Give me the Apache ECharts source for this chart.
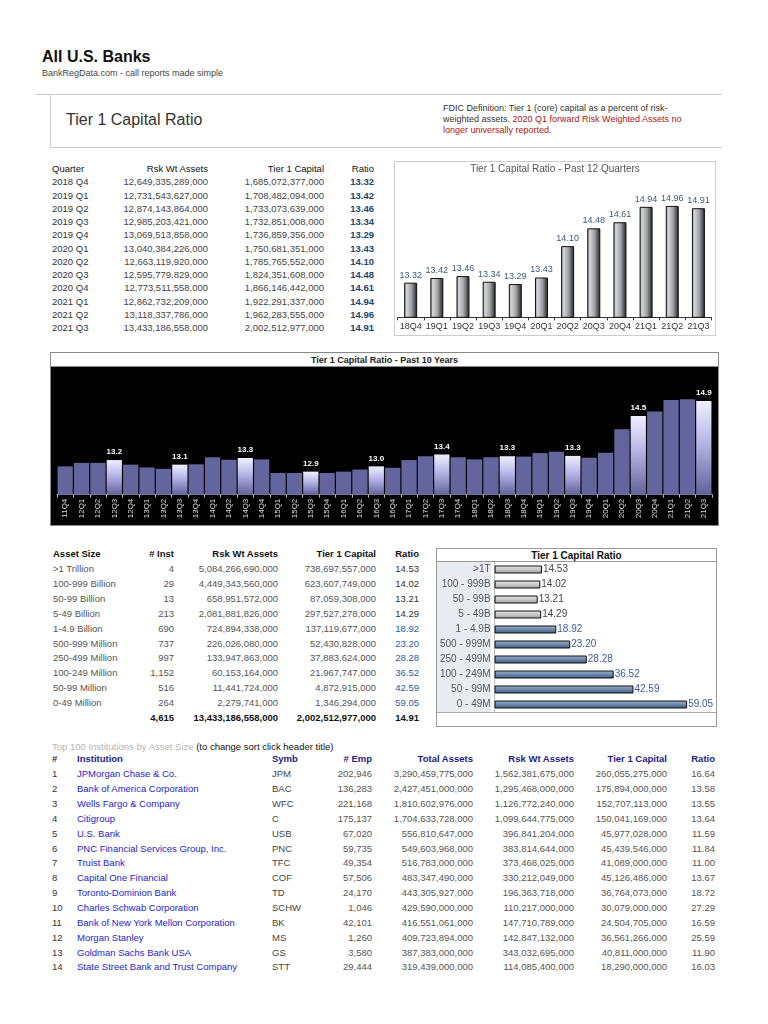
<!DOCTYPE html>
<html><head><meta charset="utf-8">
<script src="https://cdn.jsdelivr.net/npm/echarts@6/dist/echarts.min.js"></script>
<style>
html,body{margin:0;padding:0;background:#fff;}
#page{position:relative;width:768px;height:1024px;overflow:hidden;font-family:"Liberation Sans",Arial,sans-serif;color:#444;}
.t{position:absolute;white-space:nowrap;line-height:12px;font-size:9.5px;}
.box{position:absolute;box-sizing:border-box;}
</style></head><body><div id="page"></div>
<script>
// ---------- DATA ----------
const quarterLabels = ['2018 Q4','2019 Q1','2019 Q2','2019 Q3','2019 Q4','2020 Q1','2020 Q2','2020 Q3','2020 Q4','2021 Q1','2021 Q2','2021 Q3'];
const quarterShort = ['18Q4','19Q1','19Q2','19Q3','19Q4','20Q1','20Q2','20Q3','20Q4','21Q1','21Q2','21Q3'];
const quarterRwa = [12649335289000,12731543627000,12874143864000,12985203421000,13069513858000,13040384226000,12663119920000,12595779829000,12773511558000,12862732209000,13118337786000,13433186558000];
const quarterT1 = [1685072377000,1708482094000,1733073639000,1732851008000,1736859356000,1750681351000,1785765552000,1824351608000,1866146442000,1922291337000,1962283555000,2002512977000];
const quarterRatio = [13.32,13.42,13.46,13.34,13.29,13.43,14.10,14.48,14.61,14.94,14.96,14.91];

const tenYearLabels = ['11Q4','12Q1','12Q2','12Q3','12Q4','13Q1','13Q2','13Q3','13Q4','14Q1','14Q2','14Q3','14Q4','15Q1','15Q2','15Q3','15Q4','16Q1','16Q2','16Q3','16Q4','17Q1','17Q2','17Q3','17Q4','18Q1','18Q2','18Q3','18Q4','19Q1','19Q2','19Q3','19Q4','20Q1','20Q2','20Q3','20Q4','21Q1','21Q2','21Q3'];
const tenYearRatio = [13.04,13.14,13.14,13.22,13.09,13.01,12.97,13.09,13.10,13.30,13.23,13.28,13.24,12.85,12.85,12.89,12.85,12.89,12.95,13.04,13.00,13.22,13.33,13.38,13.30,13.24,13.30,13.33,13.32,13.42,13.46,13.34,13.29,13.43,14.10,14.48,14.61,14.94,14.96,14.91];

const sizeLabels = ['>1 Trillion','100-999 Billion','50-99 Billion','5-49 Billion','1-4.9 Billion','500-999 Million','250-499 Million','100-249 Million','50-99 Million','0-49 Million'];
const sizeShort = ['>1T','100 - 999B','50 - 99B','5 - 49B','1 - 4.9B','500 - 999M','250 - 499M','100 - 249M','50 - 99M','0 - 49M'];
const sizeInst = [4,29,13,213,690,737,997,1152,516,264];
const sizeRwa = [5084266690000,4449343560000,658951572000,2081881826000,724894338000,226026080000,133947863000,60153164000,11441724000,2279741000];
const sizeT1 = [738697557000,623607749000,87059308000,297527278000,137119677000,52430828000,37883624000,21967747000,4872915000,1346294000];
const sizeRatio = [14.53,14.02,13.21,14.29,18.92,23.20,28.28,36.52,42.59,59.05];
const sizeTotals = [4615,13433186558000,2002512977000,14.91];

const instNames = ['JPMorgan Chase & Co.','Bank of America Corporation','Wells Fargo & Company','Citigroup','U.S. Bank','PNC Financial Services Group, Inc.','Truist Bank','Capital One Financial','Toronto-Dominion Bank','Charles Schwab Corporation','Bank of New York Mellon Corporation','Morgan Stanley','Goldman Sachs Bank USA','State Street Bank and Trust Company'];
const instSymb = ['JPM','BAC','WFC','C','USB','PNC','TFC','COF','TD','SCHW','BK','MS','GS','STT'];
const instEmp = [202946,136283,221168,175137,67020,59735,49354,57506,24170,1046,42101,1260,3580,29444];
const instAssets = [3290459775000,2427451000000,1810602976000,1704633728000,556810647000,549603968000,516783000000,483347490000,443305927000,429590000000,416551061000,409723894000,387383000000,319439000000];
const instRwa = [1562381675000,1295468000000,1126772240000,1099644775000,396841204000,383814644000,373468025000,330212049000,196363718000,110217000000,147710789000,142847132000,343032695000,114085400000];
const instT1 = [260055275000,175894000000,152707113000,150041169000,45977028000,45439546000,41089000000,45126486000,36764073000,30079000000,24504705000,36561266000,40811000000,18290000000];
const instRatio = [16.64,13.58,13.55,13.64,11.59,11.84,11.00,13.67,18.72,27.29,16.59,25.59,11.90,16.03];

// ---------- LAYOUT HELPERS ----------
const page = document.getElementById('page');
const FONT = '"Liberation Sans",Arial,sans-serif';
const fmt = n => n.toLocaleString('en-US');
function T(x, y, s, o) {
  o = o || {};
  const d = document.createElement('div');
  d.className = 't';
  const size = o.size || 9.5;
  const lh = o.lh || 12;
  d.style.fontSize = size + 'px';
  d.style.lineHeight = lh + 'px';
  d.style.top = (y - lh / 2) + 'px';
  if (o.align === 'r') d.style.right = (768 - x) + 'px'; else d.style.left = x + 'px';
  if (o.color) d.style.color = o.color;
  if (o.bold) d.style.fontWeight = 'bold';
  if (o.html) d.innerHTML = s; else d.textContent = s;
  page.appendChild(d);
  return d;
}
function B(l, t, w, h, css) {
  const d = document.createElement('div');
  d.className = 'box';
  d.style.left = l + 'px'; d.style.top = t + 'px'; d.style.width = w + 'px'; d.style.height = h + 'px';
  Object.assign(d.style, css || {});
  page.appendChild(d);
  return d;
}

// ---------- HEADER ----------
T(42, 57, 'All U.S. Banks', {size: 16, bold: true, color: '#111', lh: 18});
T(42, 73, 'BankRegData.com - call reports made simple', {size: 9, color: '#444'});
B(36, 94, 686, 1, {background: '#ccc'});
B(50, 94, 672, 54, {borderLeft: '1px solid #ccc', borderBottom: '1px solid #ccc'});
T(66, 120, 'Tier 1 Capital Ratio', {size: 16, color: '#333', lh: 18});
T(443, 108, 'FDIC Definition: Tier 1 (core) capital as a percent of risk-', {size: 9, color: '#333'});
T(443, 119, 'weighted assets. <span style="color:#b01515">2020 Q1 forward Risk Weighted Assets no</span>', {size: 9, color: '#333', html: true});
T(443, 130, 'longer universally reported.', {size: 9, color: '#b01515'});

// ---------- QUARTER TABLE ----------
T(52, 169, 'Quarter', {color: '#111'});
T(208, 169, 'Rsk Wt Assets', {align: 'r', color: '#111'});
T(324, 169, 'Tier 1 Capital', {align: 'r', color: '#111'});
T(374, 169, 'Ratio', {align: 'r', color: '#111'});
quarterLabels.forEach((q, i) => {
  const y = 182.3 + i * 13.27;
  T(52, y, q, {color: '#333'});
  T(208, y, fmt(quarterRwa[i]), {align: 'r', color: '#444'});
  T(324, y, fmt(quarterT1[i]), {align: 'r', color: '#444'});
  T(374, y, quarterRatio[i].toFixed(2), {align: 'r', color: '#24466b', bold: true});
});

// ---------- ASSET SIZE TABLE ----------
T(53, 554, 'Asset Size', {bold: true, color: '#111'});
T(174, 554, '# Inst', {bold: true, color: '#111', align: 'r'});
T(278, 554, 'Rsk Wt Assets', {bold: true, color: '#111', align: 'r'});
T(376, 554, 'Tier 1 Capital', {bold: true, color: '#111', align: 'r'});
T(419, 554, 'Ratio', {bold: true, color: '#111', align: 'r'});
sizeLabels.forEach((s, i) => {
  const y = 569.3 + i * 14.86;
  T(53, y, s, {color: '#555'});
  T(174, y, fmt(sizeInst[i]), {align: 'r', color: '#555'});
  T(278, y, fmt(sizeRwa[i]), {align: 'r', color: '#555'});
  T(376, y, fmt(sizeT1[i]), {align: 'r', color: '#555'});
  T(419, y, sizeRatio[i].toFixed(2), {align: 'r', color: i < 4 ? '#333' : '#2a5ca8'});
});
T(174, 718, fmt(sizeTotals[0]), {align: 'r', bold: true, color: '#111'});
T(278, 718, fmt(sizeTotals[1]), {align: 'r', bold: true, color: '#111'});
T(376, 718, fmt(sizeTotals[2]), {align: 'r', bold: true, color: '#111'});
T(419, 718, sizeTotals[3].toFixed(2), {align: 'r', bold: true, color: '#111'});

// ---------- INSTITUTION TABLE ----------
T(52, 746.7, '<span style="color:#b4b4b4">Top 100 Institutions by Asset Size</span> (to change sort click header title)', {html: true, color: '#111'});
const NAVY = '#1c1c86';
T(52, 759, '#', {bold: true, color: '#333'});
T(77, 759, 'Institution', {color: NAVY, bold: true});
T(272, 759, 'Symb', {color: NAVY, bold: true});
T(372, 759, '# Emp', {color: NAVY, bold: true, align: 'r'});
T(473, 759, 'Total Assets', {color: NAVY, bold: true, align: 'r'});
T(574, 759, 'Rsk Wt Assets', {color: NAVY, bold: true, align: 'r'});
T(667, 759, 'Tier 1 Capital', {color: NAVY, bold: true, align: 'r'});
T(715, 759, 'Ratio', {color: NAVY, bold: true, align: 'r'});
instNames.forEach((n, i) => {
  const y = 774.3 + i * 14.85;
  T(52, y, String(i + 1), {color: '#333'});
  T(77, y, n, {color: '#2424d0'});
  T(272, y, instSymb[i], {color: '#444'});
  T(372, y, fmt(instEmp[i]), {align: 'r', color: '#555'});
  T(473, y, fmt(instAssets[i]), {align: 'r', color: '#555'});
  T(574, y, fmt(instRwa[i]), {align: 'r', color: '#555'});
  T(667, y, fmt(instT1[i]), {align: 'r', color: '#555'});
  T(715, y, instRatio[i].toFixed(2), {align: 'r', color: '#555'});
});

// ---------- CHART A : 12 quarters ----------
const cA = B(394, 161, 322, 175, {border: '1px solid #ccc'});
const dA = B(0, 0, 320, 173, {}); cA.appendChild(dA);
const chartA = echarts.init(dA);
chartA.setOption({
  animation: false,
  title: {text: 'Tier 1 Capital Ratio - Past 12 Quarters', left: 'center', top: 2, padding: 0,
    textStyle: {fontSize: 10, fontWeight: 'normal', color: '#555', fontFamily: FONT}},
  grid: {left: 2.6, right: 3.5, top: 20, bottom: 17.7},
  xAxis: {type: 'category', data: quarterShort,
    axisLine: {lineStyle: {color: '#333'}},
    axisTick: {show: true, length: 3, lineStyle: {color: '#333'}},
    axisLabel: {interval: 0, fontSize: 9, color: '#333', margin: 5, fontFamily: FONT}},
  yAxis: {type: 'value', min: 12.58, max: 15.47, show: false},
  series: [{type: 'bar', data: quarterRatio, barWidth: 13,
    itemStyle: {borderColor: '#111', borderWidth: 1,
      color: new echarts.graphic.LinearGradient(0, 0, 1, 0, [
        {offset: 0, color: '#7a7c80'}, {offset: 0.18, color: '#d4d6d9'},
        {offset: 0.55, color: '#a2a4a8'}, {offset: 1, color: '#1e1f22'}])},
    label: {show: true, position: 'top', distance: 3, fontSize: 9, color: '#3c5a78', fontFamily: FONT,
      formatter: p => p.value.toFixed(2)}}]
});

// ---------- CHART B : 10 years ----------
B(50, 352, 669, 174, {border: '1px solid #888', background: '#000'});
B(51, 353, 667, 14, {background: '#fff', borderBottom: '1px solid #888'});
T(384.5, 360, 'Tier 1 Capital Ratio - Past 10 Years', {size: 9, bold: true, color: '#222'}).style.transform = 'translateX(-50%)';
const dB = B(51, 367, 667, 158, {});
const chartB = echarts.init(dB);
const hiIdx = i => i % 4 === 3;
chartB.setOption({
  animation: false,
  grid: {left: 6, right: 6, top: 20, bottom: 30.3},
  xAxis: {type: 'category', data: tenYearLabels,
    axisLine: {lineStyle: {color: '#999'}},
    axisTick: {show: true, length: 3, lineStyle: {color: '#bbb'}},
    axisLabel: {interval: 0, rotate: 90, fontSize: 8, color: '#ddd', margin: 4, fontFamily: FONT}},
  yAxis: {type: 'value', min: 12.23, max: 15.31, show: false},
  series: [{type: 'bar', barCategoryGap: '7%',
    data: tenYearRatio.map((v, i) => hiIdx(i) ? {
      value: v,
      itemStyle: {color: new echarts.graphic.LinearGradient(0, 0, 0, 1, [
        {offset: 0, color: '#f0f0ff'}, {offset: 0.45, color: '#b4b4e6'}, {offset: 1, color: '#62629a'}])},
      label: {show: true}
    } : {value: v}),
    itemStyle: {color: '#65659d'},
    label: {show: false, position: 'top', distance: 4, fontSize: 8, fontWeight: 'bold', color: '#fff', fontFamily: FONT,
      formatter: p => p.value.toFixed(1)}}]
});

// ---------- CHART C : by asset size ----------
B(436, 548, 281, 179, {border: '1px solid #999'});
B(437, 549, 279, 13, {borderBottom: '1px solid #999'});
T(576.5, 555.5, 'Tier 1 Capital Ratio', {size: 10, bold: true, color: '#111'}).style.transform = 'translateX(-50%)';
B(437, 562, 54, 150, {background: '#e8ecf1'});
B(437, 712, 279, 1, {background: '#aaa'});
const dC = B(437, 562, 279, 150, {});
const chartC = echarts.init(dC);
chartC.setOption({
  animation: false,
  grid: {left: 54, right: 0, top: 0, bottom: 0},
  xAxis: {type: 'value', min: 0, max: 67.9, show: false},
  yAxis: {type: 'category', data: sizeShort, inverse: true,
    axisLine: {show: true, lineStyle: {color: '#bbb'}},
    axisTick: {show: false},
    axisLabel: {fontSize: 10, color: '#555', margin: 4, fontFamily: FONT}},
  series: [{type: 'bar', barWidth: 8,
    data: sizeRatio.map((v, i) => ({
      value: v,
      itemStyle: {borderColor: '#111', borderWidth: 1,
        color: i < 4 ? new echarts.graphic.LinearGradient(0, 0, 0, 1, [
          {offset: 0, color: '#e8e8e8'}, {offset: 0.5, color: '#c8c8c8'}, {offset: 1, color: '#9a9a9a'}])
        : new echarts.graphic.LinearGradient(0, 0, 0, 1, [
          {offset: 0, color: '#9fb4cf'}, {offset: 0.5, color: '#6d88ab'}, {offset: 1, color: '#3e5676'}])},
      label: {color: i < 4 ? '#444' : '#3a5a9a'}
    })),
    label: {show: true, position: 'right', distance: 1, fontSize: 10, fontFamily: FONT,
      formatter: p => p.value.toFixed(2)}}]
});
</script></body></html>
